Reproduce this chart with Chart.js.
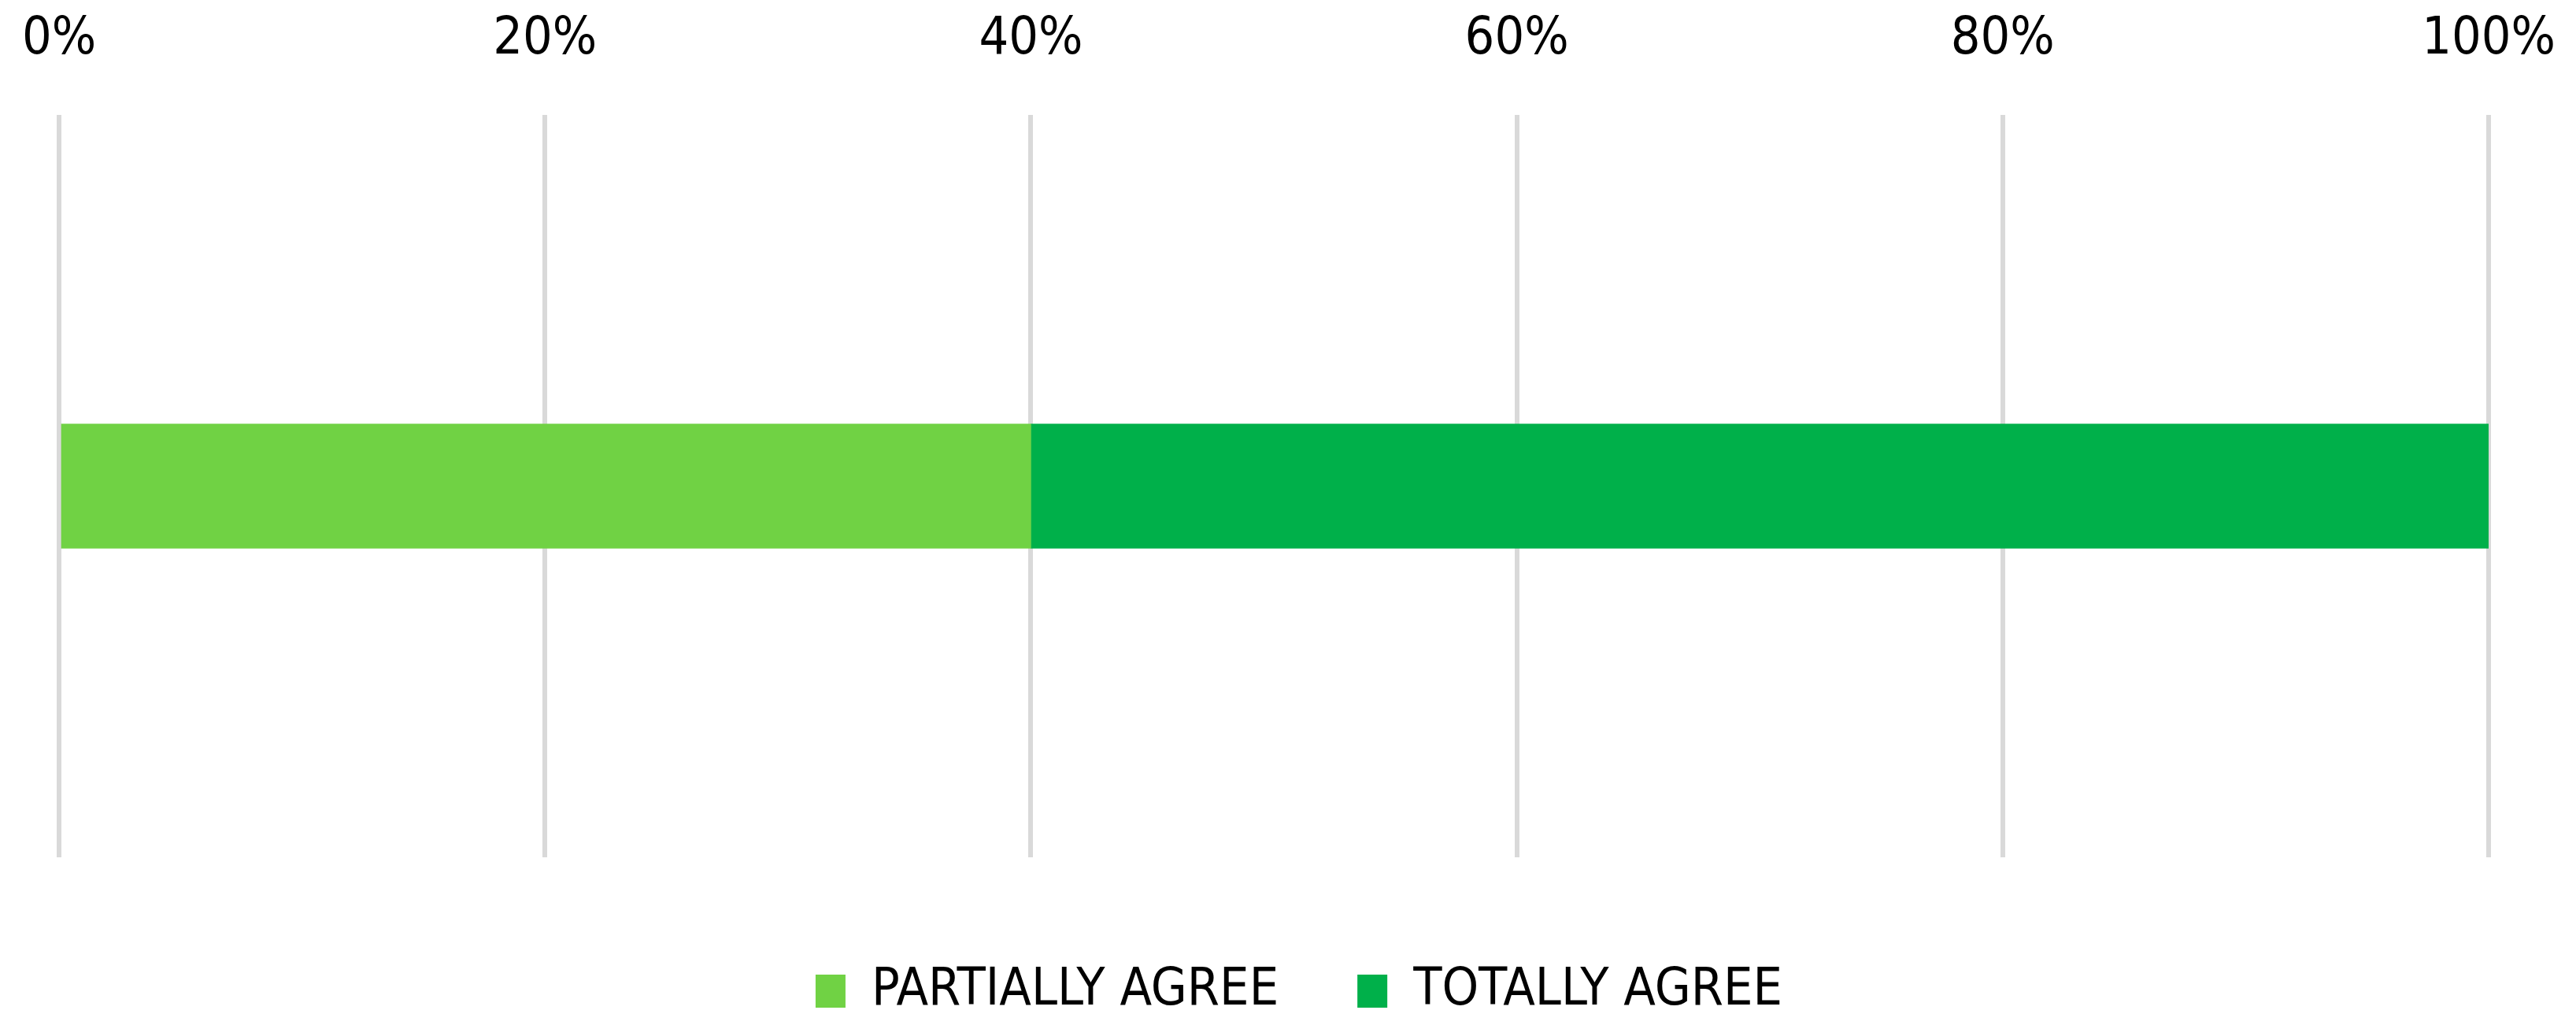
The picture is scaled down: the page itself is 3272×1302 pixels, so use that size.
<!DOCTYPE html>
<html>
<head>
<meta charset="utf-8">
<script src="https://cdn.jsdelivr.net/npm/chart.js@4/dist/chart.umd.min.js"></script>
<style>
  html, body { margin: 0; padding: 0; background: #fff; }
  #wrap { width: 3272px; height: 1302px; }
</style>
</head>
<body>
<div id="wrap"><canvas id="grafico" width="3272" height="1302"></canvas></div>
<script>
// dados
const categorias = [''];
const series = ['PARTIALLY AGREE', 'TOTALLY AGREE'];
const parcialmente = [40];
const totalmente = [60];
const cores = ['#70D244', '#00B04A'];
const ticksX = [0, 20, 40, 60, 80, 100];

const fonte = "'DejaVu Sans Condensed', 'Liberation Sans', Arial, sans-serif";
const tamanho = 66;

// empurra a legenda um pouco para a direita, como no original
const deslocaLegenda = {
  id: 'deslocaLegenda',
  afterLayout(chart) {
    chart.legend.left += 32;
    chart.legend.right += 32;
  }
};

new Chart(document.getElementById('grafico'), {
  type: 'bar',
  data: {
    labels: categorias,
    datasets: [
      { label: series[0], data: parcialmente, backgroundColor: cores[0], borderWidth: 0, barThickness: 158 },
      { label: series[1], data: totalmente, backgroundColor: cores[1], borderWidth: 0, barThickness: 158 }
    ]
  },
  options: {
    indexAxis: 'y',
    responsive: false,
    animation: false,
    layout: { padding: { left: 75, right: 111, top: 4, bottom: 0 } },
    plugins: {
      legend: {
        position: 'bottom',
        labels: {
          boxWidth: 38,
          boxHeight: 42,
          padding: 100,
          color: '#000',
          font: { family: fonte, size: tamanho }
        }
      },
      tooltip: { enabled: false }
    },
    scales: {
      x: {
        type: 'linear',
        position: 'top',
        stacked: true,
        min: 0,
        max: 100,
        afterBuildTicks: s => { s.ticks = ticksX.map(v => ({ value: v })); },
        // altura fixa do eixo e sem folga lateral extra
        afterFit: s => { s.height = 142; s.paddingLeft = 0; s.paddingRight = 0; },
        grid: { color: '#D9D9D9', lineWidth: 6, drawTicks: false },
        border: { display: false },
        ticks: {
          padding: 56,
          color: '#000',
          font: { family: fonte, size: tamanho },
          callback: v => v + '%'
        }
      },
      // eixo vazio só para abrir espaço entre o gráfico e a legenda
      xb: {
        type: 'linear',
        position: 'bottom',
        display: true,
        grid: { display: false },
        border: { display: false },
        ticks: { display: false },
        afterFit: s => { s.height = 37; }
      },
      y: {
        stacked: true,
        display: false
      }
    }
  },
  plugins: [deslocaLegenda]
});
</script>
</body>
</html>
